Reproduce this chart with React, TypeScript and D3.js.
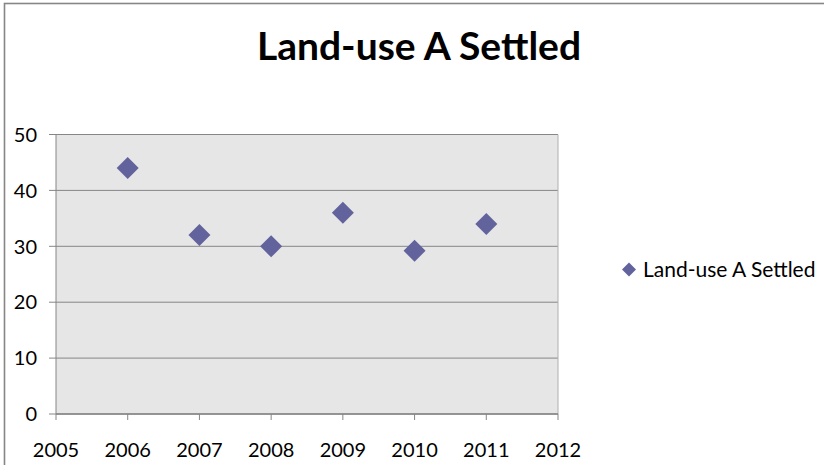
import React from "react";
import * as d3 from "d3";

const years = [2006, 2007, 2008, 2009, 2010, 2011];
const settled = [44, 32, 30, 36, 29.2, 34];
const xTicks = [2005, 2006, 2007, 2008, 2009, 2010, 2011, 2012];
const yTicks = [0, 10, 20, 30, 40, 50];
const title = "Land-use A Settled";
const seriesName = "Land-use A Settled";

const W = 824;
const H = 465;
const plot = { left: 56, right: 558, top: 134.5, bottom: 414 };
const font = "Lato, 'Open Sans', sans-serif";
const markerColor = "#62629d";
const axisColor = "#868686";

function diamond(cx: number, cy: number, r: number) {
  return `M${cx},${cy - r}L${cx + r},${cy}L${cx},${cy + r}L${cx - r},${cy}Z`;
}

export default function App() {
  const x = d3.scaleLinear().domain([2005, 2012]).range([plot.left, plot.right]);
  const y = d3.scaleLinear().domain([0, 50]).range([plot.bottom, plot.top]);

  return (
    <svg
      width={W}
      height={H}
      style={{ position: "absolute", left: 0, top: 0, background: "#fff" }}
    >
      {/* outer frame */}
      <rect x={4.5} y={3.5} width={W + 10} height={H + 10} fill="none" stroke={axisColor} strokeWidth={1.6} />

      <text
        x={419}
        y={60}
        textAnchor="middle"
        fontFamily={font}
        fontWeight="bold"
        fontSize={39}
        fill="#000"
      >
        {title}
      </text>

      {/* plot background */}
      <rect
        x={plot.left}
        y={plot.top}
        width={plot.right - plot.left}
        height={plot.bottom - plot.top}
        fill="#e6e6e6"
      />

      {/* horizontal gridlines */}
      {yTicks.map((t) => (
        <line
          key={"g" + t}
          x1={plot.left}
          x2={plot.right}
          y1={y(t)}
          y2={y(t)}
          stroke={axisColor}
          strokeWidth={1}
        />
      ))}
      {/* right edge */}
      <line x1={plot.right} x2={plot.right} y1={plot.top} y2={plot.bottom} stroke="#b0b0b0" strokeWidth={1} />

      {/* y axis */}
      <line x1={plot.left} x2={plot.left} y1={plot.top} y2={plot.bottom} stroke={axisColor} strokeWidth={1} />
      {yTicks.map((t) => (
        <g key={"y" + t}>
          <line x1={plot.left - 7} x2={plot.left} y1={y(t)} y2={y(t)} stroke={axisColor} />
          <text
            x={37}
            y={y(t)}
            dy="0.36em"
            textAnchor="end"
            fontFamily={font}
            fontSize={20}
            fill="#000"
          >
            {t}
          </text>
        </g>
      ))}

      {/* x axis */}
      <line x1={plot.left} x2={plot.right} y1={plot.bottom} y2={plot.bottom} stroke={axisColor} strokeWidth={1.5} />
      {xTicks.map((t) => (
        <g key={"x" + t}>
          <line x1={x(t)} x2={x(t)} y1={plot.bottom} y2={plot.bottom + 6} stroke={axisColor} />
          <text
            x={x(t)}
            y={457}
            textAnchor="middle"
            fontFamily={font}
            fontSize={20}
            fill="#000"
          >
            {t}
          </text>
        </g>
      ))}

      {/* markers */}
      {years.map((yr, i) => (
        <path key={"m" + yr} d={diamond(x(yr), y(settled[i]), 11)} fill={markerColor} />
      ))}

      {/* legend */}
      <path d={diamond(629, 269.5, 7)} fill={markerColor} />
      <text x={643} y={277} fontFamily={font} fontSize={21} fill="#000">
        {seriesName}
      </text>
    </svg>
  );
}
